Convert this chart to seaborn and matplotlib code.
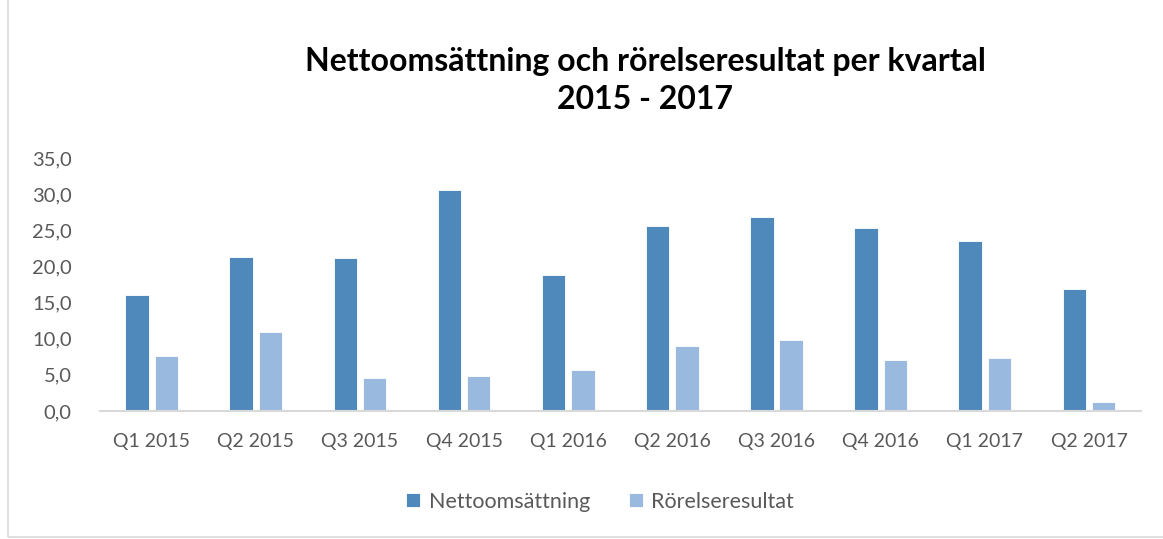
import pandas as pd
import numpy as np
import matplotlib
matplotlib.use("Agg")
from matplotlib import pyplot as plt
from matplotlib.patches import Rectangle
import seaborn as sns

quarters = ["Q1 2015", "Q2 2015", "Q3 2015", "Q4 2015", "Q1 2016",
            "Q2 2016", "Q3 2016", "Q4 2016", "Q1 2017", "Q2 2017"]
netto = [16.1, 21.3, 21.1, 30.5, 18.8, 25.6, 26.8, 25.3, 23.5, 16.9]
rorelse = [7.6, 10.9, 4.6, 4.9, 5.6, 9.0, 9.8, 7.0, 7.3, 1.2]
series = ["Nettoomsättning", "Rörelseresultat"]
colors = ["#4f89bc", "#99b9df"]

df = pd.DataFrame({"kvartal": quarters, series[0]: netto, series[1]: rorelse})
long_df = df.melt(id_vars="kvartal", var_name="serie", value_name="mkr")

sns.set_style("white")
plt.rcParams["font.family"] = ["Lato", "DejaVu Sans"]

fig = plt.figure(figsize=(11.63, 5.39), dpi=100)
ax = fig.add_axes([0.0856, 0.2375, 0.8955, 0.4695])

sns.barplot(data=long_df, x="kvartal", y="mkr", hue="serie", palette=colors,
            saturation=1, width=0.562, gap=0.2, ax=ax, legend=True,
            edgecolor="white", linewidth=0.6)

ax.set_ylim(0, 35)
ax.set_yticks(np.arange(0, 36, 5))
ax.set_yticklabels([f"{v:.1f}".replace(".", ",") for v in np.arange(0, 36, 5)])
ax.set_xlim(-0.5, len(quarters) - 0.5)
ax.set_xlabel("")
ax.set_ylabel("")
ax.tick_params(axis="both", length=0, labelsize=14, colors="#595959")
ax.tick_params(axis="y", labelsize=14.5)
ax.tick_params(axis="x", pad=16)
ax.tick_params(axis="y", pad=20)
for s in ["top", "right", "left"]:
    ax.spines[s].set_visible(False)
ax.spines["bottom"].set_color("#d9d9d9")
ax.spines["bottom"].set_linewidth(1.5)

handles, labels = ax.get_legend_handles_labels()
ax.get_legend().remove()
fig.legend(handles, labels, loc="center", bbox_to_anchor=(0.516, 0.069), ncol=2,
           frameon=False, fontsize=15.5, labelcolor="#595959", handlelength=0.65,
           handleheight=0.65, handletextpad=0.4, columnspacing=1.8)

fig.text(0.555, 0.851, "Nettoomsättning och rörelseresultat per kvartal\n2015 - 2017",
         ha="center", va="center", fontsize=23, fontweight="bold", linespacing=1.4,
         color="black")

fig.patches.append(Rectangle((0.007, 0.004), 1.2, 1.2, transform=fig.transFigure,
                             fill=False, edgecolor="#d9d9d9", linewidth=1.2))

fig.savefig("out.png", dpi=100)
